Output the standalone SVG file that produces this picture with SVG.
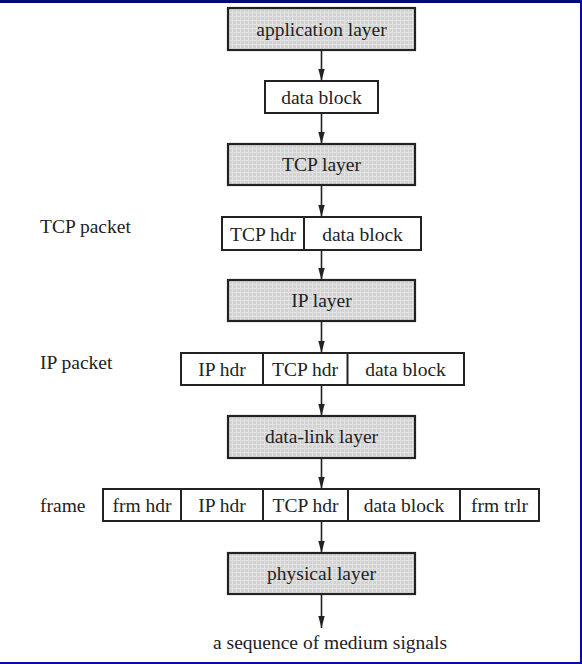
<svg xmlns="http://www.w3.org/2000/svg" width="582" height="664" viewBox="0 0 582 664">
<style>
text{font-family:"Liberation Serif","Times New Roman",serif;font-size:19.5px;fill:#222;}
.c{text-anchor:middle;}
.layer{fill:url(#hatch);stroke:#222;stroke-width:2.2;}
.cell{fill:#fff;stroke:#222;stroke-width:2;}
.div{stroke:#222;stroke-width:2;}
.arr{stroke:#222;stroke-width:1.6;fill:none;marker-end:url(#ah);}
</style>
<defs>
<pattern id="hatch" width="4" height="4" patternUnits="userSpaceOnUse">
<rect width="4" height="4" fill="#d2d2d2"/>
<path d="M0,0.5H4M0.5,0V4" stroke="#e2e2e2" stroke-width="1"/>
</pattern>
<marker id="ah" markerUnits="userSpaceOnUse" markerWidth="12" markerHeight="8" refX="12" refY="4" orient="auto">
<path d="M0,0.8 L12,4 L0,7.2 z" fill="#222"/>
</marker>
</defs>
<rect width="582" height="664" fill="#fff"/>
<rect x="0" y="0" width="582" height="3" fill="#000a78"/>
<rect x="580" y="0" width="2" height="664" fill="#0c0ca0"/>
<rect x="0" y="662" width="582" height="2" fill="#0c0ca0"/>

<g id="connectors">
<line class="arr" x1="321.5" y1="50" x2="321.5" y2="81"/>
<line class="arr" x1="321.5" y1="113" x2="321.5" y2="144"/>
<line class="arr" x1="321.5" y1="185" x2="321.5" y2="217"/>
<line class="arr" x1="321.5" y1="250" x2="321.5" y2="280"/>
<line class="arr" x1="321.5" y1="321" x2="321.5" y2="353"/>
<line class="arr" x1="321.5" y1="385" x2="321.5" y2="416"/>
<line class="arr" x1="321.5" y1="458" x2="321.5" y2="489"/>
<line class="arr" x1="321.5" y1="521" x2="321.5" y2="553"/>
<line class="arr" x1="321.5" y1="594" x2="321.5" y2="628"/>
</g>

<g id="application-layer">
<rect class="layer" x="228" y="8" width="187" height="42"/>
<text class="c" x="321.5" y="35.5">application layer</text>
</g>
<g id="data-block">
<rect class="cell" x="265" y="81" width="113" height="32"/>
<text class="c" x="321.5" y="104">data block</text>
</g>
<g id="tcp-layer">
<rect class="layer" x="228" y="144" width="187" height="41"/>
<text class="c" x="321.5" y="171">TCP layer</text>
</g>
<g id="tcp-packet">
<text x="40" y="233">TCP packet</text>
<rect class="cell" x="222" y="217" width="199" height="33"/>
<line class="div" x1="304" y1="217" x2="304" y2="250"/>
<text class="c" x="263" y="240.5">TCP hdr</text>
<text class="c" x="362.5" y="240.5">data block</text>
</g>
<g id="ip-layer">
<rect class="layer" x="228" y="280" width="187" height="41"/>
<text class="c" x="321.5" y="307">IP layer</text>
</g>
<g id="ip-packet">
<text x="40" y="369">IP packet</text>
<rect class="cell" x="181" y="353" width="283" height="32"/>
<line class="div" x1="263" y1="353" x2="263" y2="385"/>
<line class="div" x1="347.5" y1="353" x2="347.5" y2="385"/>
<text class="c" x="222" y="376">IP hdr</text>
<text class="c" x="305" y="376">TCP hdr</text>
<text class="c" x="405.5" y="376">data block</text>
</g>
<g id="data-link-layer">
<rect class="layer" x="228" y="416" width="187" height="42"/>
<text class="c" x="321.5" y="443">data-link layer</text>
</g>
<g id="frame">
<text x="40" y="512">frame</text>
<rect class="cell" x="103" y="489" width="436" height="32"/>
<line class="div" x1="181" y1="489" x2="181" y2="521"/>
<line class="div" x1="263" y1="489" x2="263" y2="521"/>
<line class="div" x1="348" y1="489" x2="348" y2="521"/>
<line class="div" x1="460" y1="489" x2="460" y2="521"/>
<text class="c" x="142" y="512">frm hdr</text>
<text class="c" x="222" y="512">IP hdr</text>
<text class="c" x="305.5" y="512">TCP hdr</text>
<text class="c" x="404" y="512">data block</text>
<text class="c" x="499.5" y="512">frm trlr</text>
</g>
<g id="physical-layer">
<rect class="layer" x="228" y="553" width="187" height="41"/>
<text class="c" x="321.5" y="580">physical layer</text>
</g>
<g id="output">
<text class="c" x="330" y="649">a sequence of medium signals</text>
</g>
</svg>
